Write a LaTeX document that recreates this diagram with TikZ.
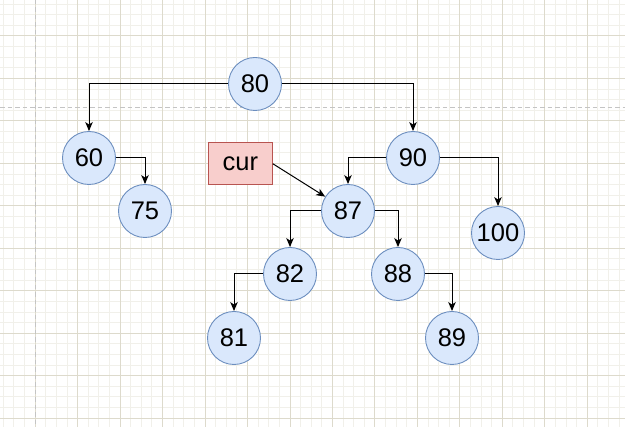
\documentclass[tikz,border=0pt]{standalone}
\usepackage{fontspec}
\setmainfont{Liberation Sans}
\usetikzlibrary{arrows.meta}
\definecolor{gridmajor}{RGB}{221,218,204}
\definecolor{gridminor}{RGB}{241,240,234}
\definecolor{pagedash}{RGB}{196,196,196}
\definecolor{nodefill}{RGB}{218,232,252}
\definecolor{nodeline}{RGB}{108,142,191}
\definecolor{curfill}{RGB}{248,206,204}
\definecolor{curline}{RGB}{184,84,80}
\tikzset{
  treenode/.style={circle, draw=nodeline, fill=nodefill, line width=0.9pt,
    minimum size=53pt, inner sep=0pt, font=\fontsize{25.5}{25.5}\selectfont},
  curbox/.style={rectangle, draw=curline, fill=curfill, line width=0.9pt,
    minimum width=64pt, minimum height=42.5pt, inner sep=0pt, font=\fontsize{25.5}{25.5}\selectfont},
  link/.style={line width=1pt, -{Stealth[length=9pt,width=7.5pt,inset=2.5pt]}},
  minorline/.style={gridminor, line width=1pt},
  majorline/.style={gridmajor, line width=1pt},
  pageline/.style={pagedash, line width=1.2pt, dash pattern=on 4.5pt off 3pt}
}
\begin{document}
\begin{tikzpicture}[x=1pt,y=-1pt]
\useasboundingbox (0,0) rectangle (625,427);
\fill[white] (0,0) rectangle (625,427);
% minor grid
\foreach \i in {0,...,59} {
  \draw[minorline] ({3.35+\i*10.617},0) -- ({3.35+\i*10.617},427);
}
\foreach \i in {0,...,40} {
  \draw[minorline] (0,{4.15+\i*10.617}) -- (625,{4.15+\i*10.617});
}
% major grid
\foreach \i in {0,...,14} {
  \draw[majorline] ({35.2+\i*42.47},0) -- ({35.2+\i*42.47},427);
}
\foreach \i in {-1,...,10} {
  \draw[majorline] (0,{36+\i*42.47}) -- (625,{36+\i*42.47});
}
% page breaks
\draw[pageline] (35.8,0) -- (35.8,427);
\draw[pageline] (0,107.3) -- (625,107.3);

% nodes
\node[treenode] (n80) at (255,84) {80};
\node[treenode] (n60) at (89,158) {60};
\node[treenode] (n75) at (145,211) {75};
\node[treenode] (n90) at (413,158) {90};
\node[treenode] (n87) at (348,211) {87};
\node[treenode] (n100) at (498,233) {100};
\node[treenode] (n82) at (290,274) {82};
\node[treenode] (n88) at (398,274) {88};
\node[treenode] (n81) at (234,338) {81};
\node[treenode] (n89) at (452,338) {89};
\node[curbox] (cur) at (240.3,163.7) {cur};

% connectors
\draw[link] (n80.west) -| (n60.north);
\draw[link] (n80.east) -| (n90.north);
\draw[link] (n60.east) -| (n75.north);
\draw[link] (n90.west) -| (n87.north);
\draw[link] (n90.east) -| (n100.north);
\draw[link] (n87.west) -| (n82.north);
\draw[link] (n87.east) -| (n88.north);
\draw[link] (n82.west) -| (n81.north);
\draw[link] (n88.east) -| (n89.north);
\draw[link] (cur.east) -- (n87);
\end{tikzpicture}
\end{document}
